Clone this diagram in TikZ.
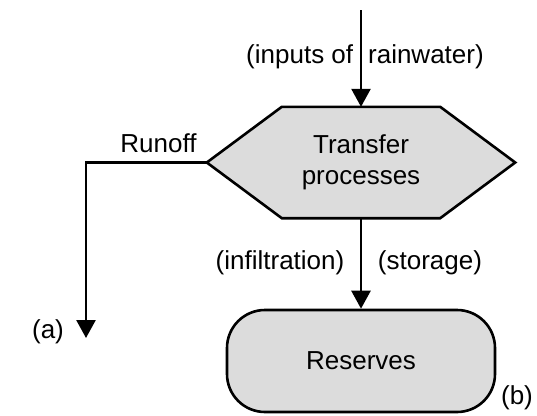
\documentclass[tikz,border=0pt]{standalone}
\usepackage{fontspec}
\setmainfont{Liberation Sans}
\usetikzlibrary{arrows.meta}
\definecolor{boxgray}{HTML}{DCDCDC}
\tikzset{
  lbl/.style={font=\fontsize{26}{31}\selectfont, inner sep=0pt},
  conn/.style={line width=2.6pt, -{Triangle[length=18pt,width=19pt]}},
  shapeline/.style={line width=2.6pt, line join=miter, fill=boxgray},
}
\begin{document}
\begin{tikzpicture}[x=1pt,y=-1pt]
\useasboundingbox (0,0) rectangle (537,415);
% hexagon
\node[minimum width=308pt, minimum height=111pt, inner sep=0pt] (hex) at (361,162.5) {};
\draw[shapeline] (hex.west) -- ([xshift=75pt]hex.north west) -- ([xshift=-75pt]hex.north east)
  -- (hex.east) -- ([xshift=-75pt]hex.south east) -- ([xshift=75pt]hex.south west) -- cycle;
\node[lbl, align=center] (hextext) at (hex.center) {Transfer\\processes};
% reserves
\node[shapeline, draw, rounded corners=38pt, minimum width=268pt, minimum height=102pt, lbl] (res) at (361,361) {Reserves};
% connectors
\coordinate (src) at (361,10);
\coordinate (aend) at (86,338);
\draw[conn] (src) -- (src |- hex.north);
\draw[line width=2.6pt, -{Triangle[length=18pt,width=19pt]}] (hex.west) -| (aend);
\draw[conn] (hex.south) -- (res.north);
% labels
\node[lbl] (inlbl) at (365,57) {(inputs of\hspace{15pt}rainwater)};
\node[lbl] (runlbl) at (158.5,143) {Runoff};
\node[lbl] (inflbl) at (280,263) {(infiltration)};
\node[lbl] (stolbl) at (430,263) {(storage)};
\node[lbl] (albl) at (48,332) {(a)};
\node[lbl] (blbl) at (517,398) {(b)};
\end{tikzpicture}
\end{document}
